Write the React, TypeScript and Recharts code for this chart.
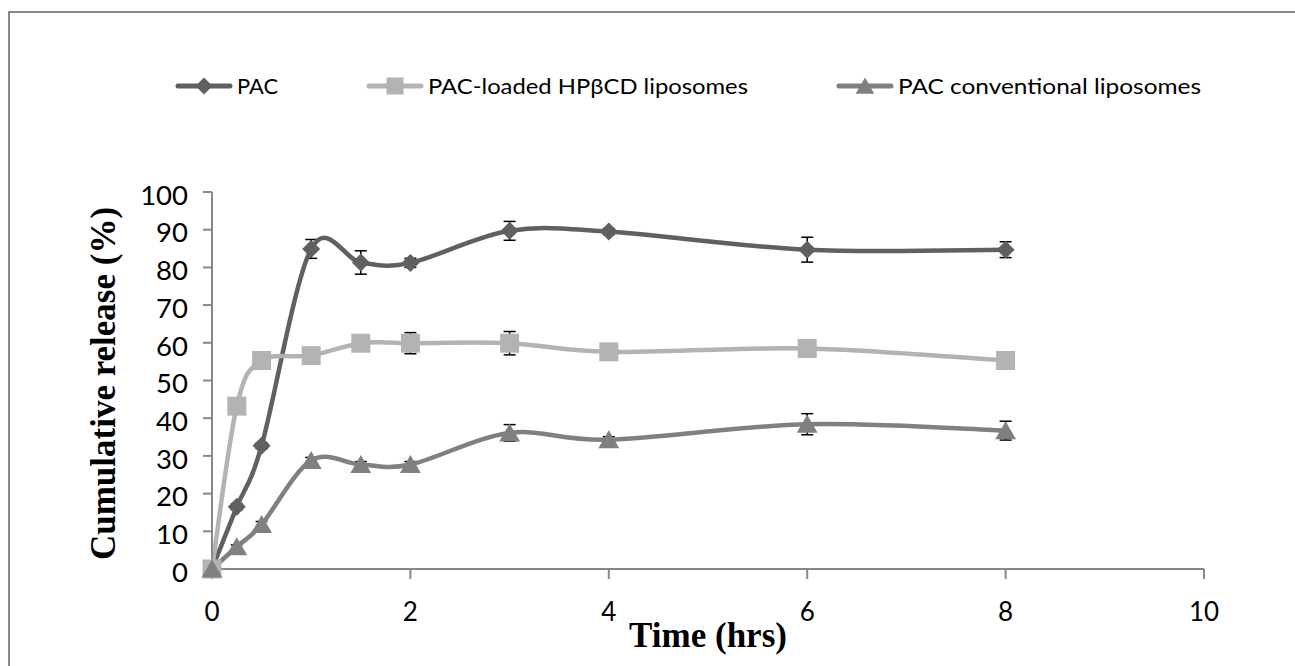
import React from 'react';
import { LineChart, Line, XAxis, YAxis, ErrorBar, Legend } from 'recharts';

// release study, hours vs cumulative %
const timeHrs = [0, 0.25, 0.5, 1, 1.5, 2, 3, 4, 6, 8];
const pacValues = [0, 16.5, 32.7, 84.9, 81.3, 81.2, 89.7, 89.5, 84.7, 84.7];
const pacErrors = [0, 0.8, 0.8, 2.5, 3.1, 1.2, 2.5, 0.8, 3.3, 2.1];
const hpbcdValues = [0, 43.2, 55.3, 56.6, 59.9, 59.9, 59.9, 57.6, 58.5, 55.3];
const hpbcdErrors = [0, 0.8, 0.8, 0.8, 1.5, 2.8, 3.1, 0.8, 1.2, 0.8];
const convValues = [0, 5.9, 11.8, 28.8, 27.7, 27.7, 36.1, 34.3, 38.4, 36.7];
const convErrors = [0, 0.5, 0.8, 0.8, 0.8, 0.8, 2.2, 0.8, 2.8, 2.5];

const xTicks = [0, 2, 4, 6, 8, 10];
const yTicks = [0, 10, 20, 30, 40, 50, 60, 70, 80, 90, 100];

const seriesNames = ['PAC', 'PAC-loaded HPβCD liposomes', 'PAC conventional liposomes'];

const data = timeHrs.map((t, i) => ({
  t,
  pac: pacValues[i],
  pacErr: pacErrors[i],
  hpbcd: hpbcdValues[i],
  hpbcdErr: hpbcdErrors[i],
  conv: convValues[i],
  convErr: convErrors[i],
}));

const COLORS = { pac: '#606060', hpbcd: '#b3b3b3', conv: '#808080' };
const AXIS = '#888888';
const TICK_FONT = 'Lato, "Open Sans", sans-serif';
const SERIF = '"Liberation Serif", "Times New Roman", serif';

// Excel-style smoothed line (uniform Catmull-Rom as cubic beziers)
const excelSmooth = (context: any) => {
  let pts: number[][] = [];
  return {
    areaStart() {},
    areaEnd() {},
    lineStart() {
      pts = [];
    },
    point(x: number, y: number) {
      pts.push([+x, +y]);
    },
    lineEnd() {
      const n = pts.length;
      if (!n) return;
      context.moveTo(pts[0][0], pts[0][1]);
      for (let i = 0; i < n - 1; i++) {
        const p0 = pts[i - 1] || pts[i];
        const p1 = pts[i];
        const p2 = pts[i + 1];
        const p3 = pts[i + 2] || p2;
        const k = 1 / 6;
        context.bezierCurveTo(
          p1[0] + (p2[0] - p0[0]) * k,
          p1[1] + (p2[1] - p0[1]) * k,
          p2[0] - (p3[0] - p1[0]) * k,
          p2[1] - (p3[1] - p1[1]) * k,
          p2[0],
          p2[1]
        );
      }
    },
  };
};

type Shape = 'diamond' | 'square' | 'triangle';

const markerPath = (shape: Shape, cx: number, cy: number, s: number) => {
  if (shape === 'diamond') return `M${cx},${cy - s}L${cx + s},${cy}L${cx},${cy + s}L${cx - s},${cy}Z`;
  if (shape === 'square') return `M${cx - s},${cy - s}H${cx + s}V${cy + s}H${cx - s}Z`;
  return `M${cx},${cy - s}L${cx + s * 1.1},${cy + s * 0.9}L${cx - s * 1.1},${cy + s * 0.9}Z`;
};

const makeDot = (shape: Shape, color: string, size: number) => (props: any) => {
  const { cx, cy, index } = props;
  if (cx == null || cy == null) return <g key={index} />;
  return <path key={index} d={markerPath(shape, cx, cy, size)} fill={color} stroke="none" />;
};

const legendItems: { shape: Shape; color: string; x: number; textWidth: number }[] = [
  { shape: 'diamond', color: COLORS.pac, x: 176, textWidth: 41 },
  { shape: 'square', color: COLORS.hpbcd, x: 367, textWidth: 320 },
  { shape: 'triangle', color: COLORS.conv, x: 837, textWidth: 303 },
];

const renderLegend = () => (
  <svg width={1295} height={120} style={{ position: 'absolute', left: 0, top: 0, overflow: 'visible' }}>
    {legendItems.map((it, i) => (
      <g key={seriesNames[i]}>
        <line x1={it.x + 2} y1={86} x2={it.x + 54} y2={86} stroke={it.color} strokeWidth={5} strokeLinecap="round" />
        <path d={markerPath(it.shape, it.x + 28, 86, 8.5)} fill={it.color} />
        <text
          x={it.x + 61}
          y={94}
          fontFamily={TICK_FONT}
          fontSize={22}
          fill="#000"
          textLength={it.textWidth}
          lengthAdjust="spacingAndGlyphs"
        >
          {seriesNames[i]}
        </text>
      </g>
    ))}
  </svg>
);

const YTitle = (props: any) => {
  const vb = props.viewBox || { y: 192, height: 377 };
  const cy = vb.y + vb.height / 2 + 3;
  return (
    <text
      x={115}
      y={cy}
      transform={`rotate(-90, 115, ${cy})`}
      textAnchor="middle"
      fontFamily={SERIF}
      fontWeight="bold"
      fontSize={35}
      fill="#000"
    >
      Cumulative release (%)
    </text>
  );
};

export default function App() {
  return (
    <div style={{ position: 'relative', width: 1295, height: 666, overflow: 'hidden', background: '#fff' }}>
      <style>{'body{margin:0}'}</style>
      <div
        style={{
          position: 'absolute',
          left: 8,
          top: 11,
          width: 1400,
          height: 800,
          borderLeft: `2px solid ${AXIS}`,
          borderTop: `2px solid ${AXIS}`,
        }}
      />
      <LineChart width={1295} height={666} data={data} margin={{ top: 192, right: 91, left: 0, bottom: 0 }}>
        <Legend verticalAlign="top" content={renderLegend} wrapperStyle={{ top: 0, left: 0, width: 1295 }} />
        <XAxis
          dataKey="t"
          type="number"
          domain={[0, 10]}
          ticks={xTicks}
          height={97}
          axisLine={{ stroke: AXIS, strokeWidth: 2 }}
          tickLine={{ stroke: AXIS, strokeWidth: 2 }}
          tickSize={10}
          tickMargin={24}
          tick={{ fontSize: 26, fontFamily: TICK_FONT, fill: '#000' }}
          label={{
            value: 'Time (hrs)',
            position: 'insideBottom',
            offset: 19,
            style: { fontFamily: SERIF, fontWeight: 'bold', fontSize: 35, fill: '#000' },
          }}
        />
        <YAxis
          type="number"
          domain={[0, 100]}
          ticks={yTicks}
          width={212}
          axisLine={{ stroke: AXIS, strokeWidth: 2 }}
          tickLine={{ stroke: AXIS, strokeWidth: 2 }}
          tickSize={9}
          tickMargin={15}
          tick={{ fontSize: 27.5, fontFamily: TICK_FONT, fill: '#000', dy: 3 }}
          label={{ content: YTitle }}
        />
        <Line
          dataKey="pac"
          name={seriesNames[0]}
          type={excelSmooth as any}
          stroke={COLORS.pac}
          strokeWidth={4.5}
          dot={makeDot('diamond', COLORS.pac, 9)}
          activeDot={false}
          isAnimationActive={false}
        >
          <ErrorBar dataKey="pacErr" direction="y" width={6} stroke="#000" strokeWidth={1.5} isAnimationActive={false} />
        </Line>
        <Line
          dataKey="hpbcd"
          name={seriesNames[1]}
          type={excelSmooth as any}
          stroke={COLORS.hpbcd}
          strokeWidth={4.5}
          dot={makeDot('square', COLORS.hpbcd, 9.5)}
          activeDot={false}
          isAnimationActive={false}
        >
          <ErrorBar dataKey="hpbcdErr" direction="y" width={6} stroke="#000" strokeWidth={1.5} isAnimationActive={false} />
        </Line>
        <Line
          dataKey="conv"
          name={seriesNames[2]}
          type={excelSmooth as any}
          stroke={COLORS.conv}
          strokeWidth={4.5}
          dot={makeDot('triangle', COLORS.conv, 9.5)}
          activeDot={false}
          isAnimationActive={false}
        >
          <ErrorBar dataKey="convErr" direction="y" width={6} stroke="#000" strokeWidth={1.5} isAnimationActive={false} />
        </Line>
      </LineChart>
    </div>
  );
}
